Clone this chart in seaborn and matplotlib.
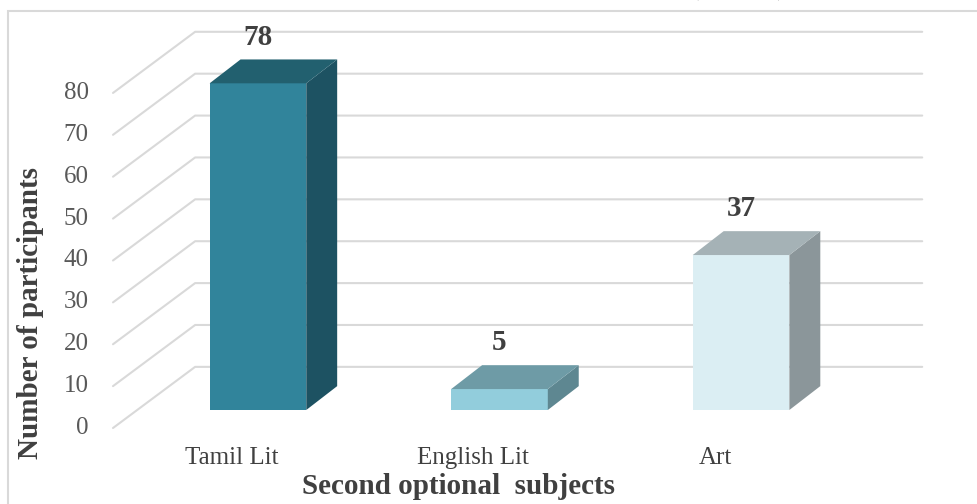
import numpy as np
import pandas as pd
import seaborn as sns
import matplotlib.pyplot as plt
from matplotlib.patches import Polygon, Rectangle

# chart data
subjects = ['Tamil Lit', 'English Lit', 'Art']
participants = [78, 5, 37]
y_ticks = [0, 10, 20, 30, 40, 50, 60, 70, 80]

# face colours for the fake 3d columns
front_colors = ['#31849b', '#92cddc', '#dbeef3']
top_colors = ['#22606f', '#6e9ba6', '#a5b2b6']
side_colors = ['#1d5262', '#5e8791', '#8b969a']

sns.set_style('white')
plt.rcParams['font.family'] = ['Liberation Serif', 'DejaVu Serif']

fig = plt.figure(figsize=(9.77, 5.04), dpi=100)
ax = fig.add_axes([113 / 977, 94 / 504, 773 / 977, 356 / 504])

data = pd.DataFrame({'subject': subjects, 'n': participants})
sns.barplot(data=data, x='subject', y='n', hue='subject', palette=front_colors,
            width=0.4, saturation=1, legend=False, linewidth=0, ax=ax, zorder=3)
ax.set_xlim(-0.6, 2.6)
ax.set_ylim(0, 85)
ax.set_axis_off()

# depth of the boxes in data units
dx, dy = 0.128, 5.7
# grid: front plane and back wall offsets
front_x0, front_dy = -0.6, -4.3
back_x0, back_x1, back_dy = -0.26, 2.75, 10.3

for v in y_ticks:
    ax.plot([front_x0, back_x0, back_x1], [v + front_dy, v + back_dy, v + back_dy],
            color='#d9d9d9', lw=1.5, zorder=1, clip_on=False)
    ax.text(-0.7, v + front_dy, str(v), ha='right', va='center',
            fontsize=18, color='#595959', clip_on=False)

for i, bar in enumerate(ax.patches):
    x, w, h = bar.get_x(), bar.get_width(), bar.get_height()
    side = Polygon([(x + w, 0), (x + w + dx, dy), (x + w + dx, h + dy), (x + w, h)],
                   closed=True, facecolor=side_colors[i], edgecolor='none', zorder=3)
    top = Polygon([(x, h), (x + dx, h + dy), (x + w + dx, h + dy), (x + w, h)],
                  closed=True, facecolor=top_colors[i], edgecolor='none', zorder=3)
    ax.add_patch(side)
    ax.add_patch(top)
    ax.text(x + w / 2, h + dy + 5.3, str(participants[i]), ha='center', va='center',
            fontsize=21, fontweight='bold', color='#404040', clip_on=False)
    ax.text(x + w / 2 - 0.108, -11.5, subjects[i], ha='center', va='center',
            fontsize=18, color='#404040', clip_on=False)

fig.text(31 / 977, 1 - 313 / 504, 'Number of participants', rotation=90,
         ha='center', va='center', fontsize=21, fontweight='bold', color='#404040')
fig.text(459 / 977, 1 - 487 / 504, 'Second optional  subjects',
         ha='center', va='center', fontsize=21, fontweight='bold', color='#404040')

# caption of the page, cut off by the top edge (only descenders show)
fig.text(20 / 977, 1 + 5 / 504, 'Figure 6: Number of respondents choosing the second optional (n = 120)',
         ha='left', va='baseline', fontsize=18, fontweight='bold', color='black')

# chart frame
fig.add_artist(Rectangle((8 / 977, -0.1), 1.1, 1.1 - 11 / 504, transform=fig.transFigure,
                         fill=False, edgecolor='#d9d9d9', lw=1.5))

fig.savefig('out.png', dpi=100)
